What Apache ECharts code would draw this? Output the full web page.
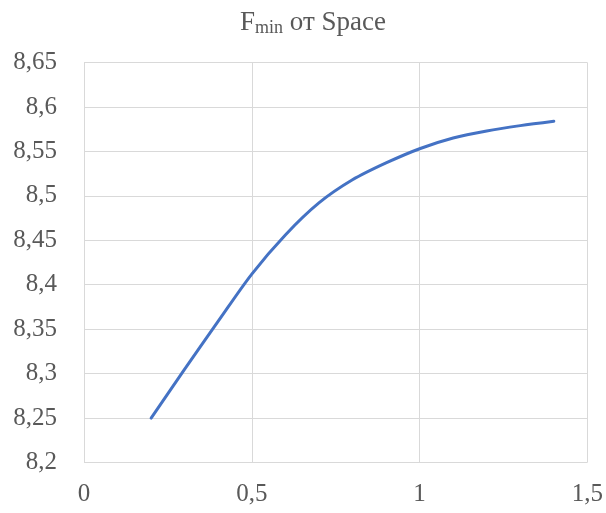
<!DOCTYPE html>
<html>
<head>
<meta charset="utf-8">
<script src="https://cdn.jsdelivr.net/npm/echarts@6/dist/echarts.min.js"></script>
<style>html,body{margin:0;padding:0;background:#fff}#c{width:606px;height:513px}</style>
</head>
<body>
<div id="c"></div>
<script>
const spaceValues = [0.2, 0.3, 0.4, 0.5, 0.6, 0.7, 0.8, 0.9, 1.0, 1.1, 1.2, 1.3, 1.4];
const fminValues = [8.25, 8.305, 8.359, 8.412, 8.456, 8.492, 8.518, 8.537, 8.553, 8.565, 8.573, 8.579, 8.584];
const xTicks = [0, 0.5, 1, 1.5];
const yTicks = [8.2, 8.25, 8.3, 8.35, 8.4, 8.45, 8.5, 8.55, 8.6, 8.65];

const fmt = v => String(+v.toFixed(2)).replace('.', ',');
const chart = echarts.init(document.getElementById('c'), null, {renderer: 'canvas'});
const font = '"Liberation Serif", "Times New Roman", serif';
chart.setOption({
  animation: false,
  backgroundColor: '#ffffff',
  title: {
    text: '{f|F}{s|min}{f| от Space}',
    left: 235,
    top: 3,
    textStyle: {
      fontWeight: 'normal',
      rich: {
        f: {fontFamily: font, fontSize: 27, fontWeight: 'normal', color: '#595959'},
        s: {fontFamily: font, fontSize: 18, fontWeight: 'normal', color: '#595959', verticalAlign: 'bottom', padding: [11, 0, 0, 0]}
      }
    }
  },
  grid: {left: 84, right: 18, top: 62.5, bottom: 50.5, containLabel: false},
  xAxis: {
    type: 'value', min: xTicks[0], max: xTicks[xTicks.length - 1], interval: 0.5,
    axisLine: {show: false}, axisTick: {show: false},
    splitLine: {show: true, lineStyle: {color: '#d9d9d9', width: 1}},
    axisLabel: {fontFamily: font, fontSize: 25, color: '#595959', margin: 19, formatter: fmt}
  },
  yAxis: {
    type: 'value', min: yTicks[0], max: yTicks[yTicks.length - 1], interval: 0.05,
    axisLine: {show: false}, axisTick: {show: false},
    splitLine: {show: true, lineStyle: {color: '#d9d9d9', width: 1}},
    axisLabel: {fontFamily: font, fontSize: 25, color: '#595959', margin: 27, formatter: fmt}
  },
  series: [{
    type: 'line',
    data: spaceValues.map((x, i) => [x, fminValues[i]]),
    smooth: 0.3,
    showSymbol: false,
    lineStyle: {color: '#4472C4', width: 3, cap: 'round'},
    itemStyle: {color: '#4472C4'}
  }]
});
</script>
</body>
</html>
